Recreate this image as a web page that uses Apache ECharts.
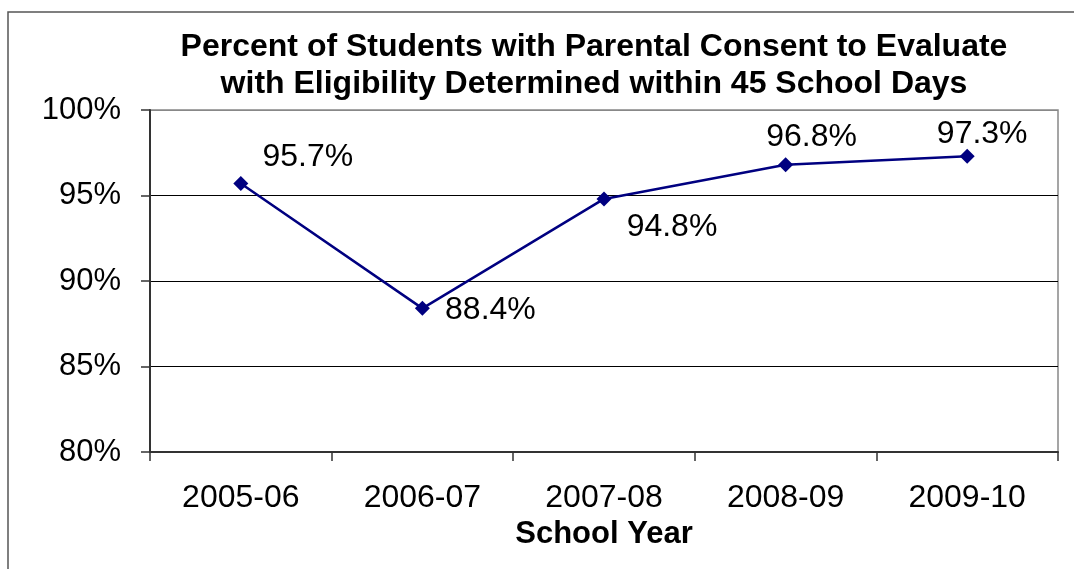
<!DOCTYPE html>
<html>
<head>
<meta charset="utf-8">
<script src="https://cdn.jsdelivr.net/npm/echarts@6/dist/echarts.min.js"></script>
<style>html,body{margin:0;padding:0;background:#fff}#c{width:1074px;height:569px}</style>
</head>
<body>
<div id="c"></div>
<script>
const categories = ['2005-06', '2006-07', '2007-08', '2008-09', '2009-10'];
const values = [95.7, 88.4, 94.8, 96.8, 97.3];
const yTicks = [80, 85, 90, 95, 100];
const titleLines = ['Percent of Students with Parental Consent to Evaluate', 'with Eligibility Determined within 45 School Days'];
const labelOffsets = [[67, -26], [68, 2], [68, 28], [26, -28], [15, -22]];

const FONT = 'Arial, "Liberation Sans", sans-serif';
const chart = echarts.init(document.getElementById('c'), null, {renderer: 'canvas'});
chart.setOption({
  animation: false,
  backgroundColor: '#fff',
  title: {
    text: titleLines.join('\n'),
    left: 589, top: 24, textAlign: 'center',
    textStyle: {fontFamily: FONT, fontWeight: 'bold', fontSize: 32, lineHeight: 37, color: '#000'}
  },
  graphic: [{
    type: 'rect', shape: {x: 8, y: 12, width: 1100, height: 600},
    style: {fill: 'none', stroke: '#555', lineWidth: 1.5}, silent: true
  }],
  grid: {left: 150, right: 16, top: 110, bottom: 117, show: true, borderColor: '#888', borderWidth: 1.5, containLabel: false},
  xAxis: {
    type: 'category', data: categories, boundaryGap: true,
    name: 'School Year', nameLocation: 'middle', nameGap: 64,
    nameTextStyle: {fontFamily: FONT, fontWeight: 'bold', fontSize: 31, color: '#000'},
    axisLine: {lineStyle: {color: '#333', width: 2}},
    axisTick: {show: true, alignWithLabel: false, length: 9, lineStyle: {color: '#333', width: 1.5}},
    axisLabel: {fontFamily: FONT, fontSize: 32, color: '#000', margin: 30},
    splitLine: {show: false}
  },
  yAxis: {
    type: 'value', min: yTicks[0], max: yTicks[yTicks.length - 1], interval: 5,
    axisLine: {show: true, lineStyle: {color: '#333', width: 2}},
    axisTick: {show: true, length: 9, lineStyle: {color: '#333', width: 1.5}},
    axisLabel: {fontFamily: FONT, fontSize: 31, color: '#000', margin: 29, formatter: v => v + '%'},
    splitLine: {show: true, lineStyle: {color: ['#000', '#000', '#000', '#000', '#888'], width: 1}}
  },
  series: [{
    type: 'line',
    data: values.map((v, i) => ({
      value: v,
      label: {offset: labelOffsets[i]}
    })),
    lineStyle: {color: '#000080', width: 2.5},
    itemStyle: {color: '#000080'},
    symbol: 'diamond', symbolSize: 15,
    label: {
      show: true, position: 'inside', align: 'center', verticalAlign: 'middle',
      fontFamily: FONT, fontSize: 32, color: '#000',
      formatter: p => p.value.toFixed(1) + '%'
    }
  }]
});
</script>
</body>
</html>
